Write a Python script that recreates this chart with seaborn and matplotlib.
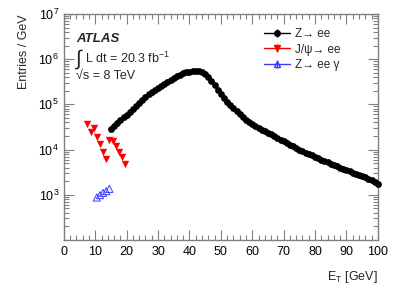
import numpy as np
import pandas as pd
import matplotlib
matplotlib.use('Agg')
import matplotlib.pyplot as plt
import seaborn as sns
from matplotlib.lines import Line2D
from matplotlib.legend_handler import HandlerTuple
from matplotlib.ticker import MultipleLocator, FixedLocator, LogLocator, NullFormatter

# Z -> ee, 1 GeV bins
zee_et = list(range(15, 101))
zee_entries = [28800, 33100, 38900, 45700, 51300, 58900, 67600, 77600, 91200, 107000,
               126000, 145000, 166000, 186000, 209000, 234000, 257000, 282000, 316000, 347000,
               380000, 417000, 457000, 485000, 510000, 530000, 545000, 555000, 550000, 515000,
               460000, 395000, 330000, 262000, 207000, 166000, 138000, 115000, 97700, 83200,
               70800, 61700, 52500, 45700, 40700, 37200, 33100, 30200, 27500, 25700,
               23400, 21900, 20000, 18200, 16600, 15100, 13800, 12900, 11700, 11000,
               10000, 9330, 8510, 7940, 7410, 6920, 6460, 6030, 5620, 5250,
               4900, 4570, 4270, 3980, 3800, 3550, 3310, 3090, 2880, 2690,
               2570, 2450, 2290, 2140, 1950, 1750]

# J/psi -> ee
jpsi_et = [7.5, 8.5, 9.5, 10.5, 11.5, 12.5, 13.5, 14.5, 15.5, 16.5, 17.5, 18.5, 19.5]
jpsi_entries = [36000, 24700, 29300, 19100, 13100, 9000, 6200,
                16100, 15100, 11800, 9000, 6700, 4900]

# Z -> ee gamma
zeeg_et = [10.5, 11.5, 12.5, 13.5, 14.5]
zeeg_entries = [870, 980, 1100, 1200, 1350]

sns.set_style('ticks')
plt.rcParams['font.family'] = ['Liberation Sans', 'DejaVu Sans']
plt.rcParams['mathtext.fontset'] = 'custom'
plt.rcParams['mathtext.rm'] = 'Liberation Sans'
plt.rcParams['mathtext.it'] = 'Liberation Sans:italic'
plt.rcParams['mathtext.bf'] = 'Liberation Sans:bold'

fig = plt.figure(figsize=(3.99, 2.86), dpi=100)
ax = fig.add_axes([0.160, 0.161, 0.787, 0.790])

blue = '#3a3aff'
sns.scatterplot(x=zee_et, y=zee_entries, marker='o', color='black', s=24,
                linewidth=0, ax=ax, zorder=3, clip_on=False)
sns.scatterplot(x=jpsi_et, y=jpsi_entries, marker='v', color='red', s=28,
                linewidth=0, ax=ax, zorder=3)
sns.scatterplot(x=zeeg_et, y=zeeg_entries, marker='^', s=26, ax=ax, zorder=3,
                facecolors='none', edgecolors=blue, linewidth=0.7)

ax.set_yscale('log')
ax.set_xlim(0, 100)
ax.set_ylim(100, 1e7)

ax.xaxis.set_major_locator(MultipleLocator(10))
ax.xaxis.set_minor_locator(MultipleLocator(2))
ax.yaxis.set_major_locator(FixedLocator([1e3, 1e4, 1e5, 1e6, 1e7]))
ax.yaxis.set_minor_locator(LogLocator(base=10, subs=np.arange(2, 10)))
ax.yaxis.set_minor_formatter(NullFormatter())

frame = '#808080'
for sp in ax.spines.values():
    sp.set_color(frame)
    sp.set_linewidth(1.0)
    sp.set_visible(True)
ax.tick_params(which='both', direction='in', top=True, right=True, color=frame,
               labelsize=9, labelcolor='black')
ax.tick_params(which='major', length=7, width=0.8)
ax.tick_params(which='minor', length=3.5, width=0.8)
ax.tick_params(axis='x', pad=4)

ax.set_ylabel('Entries / GeV', fontsize=9, loc='top', labelpad=6)
ax.set_xlabel(r'E$_{\rm T}$ [GeV]', fontsize=9, loc='right', labelpad=8)

# ATLAS label block
ax.text(0.04, 0.89, 'ATLAS', transform=ax.transAxes, fontsize=9.5,
        fontweight='bold', fontstyle='italic', va='center')
ax.text(0.035, 0.80, '\u222b', transform=ax.transAxes, fontsize=15, va='center')
ax.text(0.068, 0.805, r'L dt = 20.3 fb$^{\mathdefault{-1}}$', transform=ax.transAxes,
        fontsize=9, va='center')
ax.text(0.04, 0.725, '\u221as = 8 TeV', transform=ax.transAxes, fontsize=9, va='center')

handles = [
    (Line2D([], [], color='black', lw=1, marker='o', ms=4),
     Line2D([], [], color='black', lw=0, marker='|', ms=6, mew=1)),
    (Line2D([], [], color='red', lw=1, marker='v', ms=4.5),
     Line2D([], [], color='red', lw=0, marker='|', ms=6, mew=1)),
    (Line2D([], [], color=blue, lw=1, marker='^', ms=4.5, mfc='none'),
     Line2D([], [], color=blue, lw=0, marker='|', ms=6, mew=1)),
]
labels = ['Z\u2192 ee', 'J/\u03c8\u2192 ee', 'Z\u2192 ee \u03b3']
ax.legend(handles, labels, handler_map={tuple: HandlerTuple(ndivide=1, pad=0)},
          loc='upper left', bbox_to_anchor=(0.605, 0.985), frameon=False, fontsize=8.5,
          handlelength=2.2, handletextpad=0.4, labelspacing=0.3)

fig.savefig('out.png', dpi=100)
